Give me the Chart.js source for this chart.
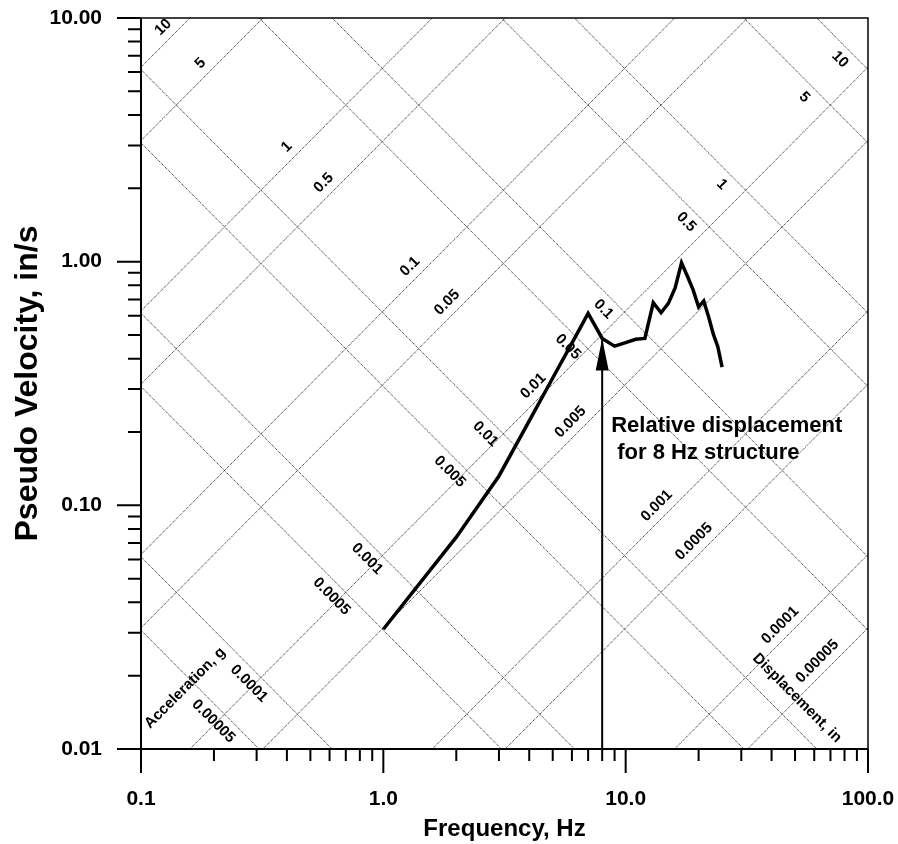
<!DOCTYPE html>
<html>
<head>
<meta charset="utf-8">
<script src="https://cdn.jsdelivr.net/npm/chart.js@4.4.1/dist/chart.umd.min.js"></script>
<style>
  html, body { margin: 0; padding: 0; background: #fff; }
  canvas { display: block; }
</style>
</head>
<body>
<canvas id="chartCanvas" width="898" height="844"></canvas>
<script>
// akser (log-log)
const xTickValues = [0.1, 1, 10, 100];
const xTickLabels = ['0.1', '1.0', '10.0', '100.0'];
const yTickValues = [0.01, 0.1, 1, 10];
const yTickLabels = ['0.01', '0.10', '1.00', '10.00'];

// responsspektrum: frekvens (Hz) og pseudo-hastighed (in/s)
const freqHz = [1, 2, 3, 4, 5, 6, 7, 8, 9, 10, 11, 12, 13, 14, 15, 16, 17, 18, 19, 20, 21, 22, 23, 24, 25];
const pseudoVel = [0.031, 0.074, 0.132, 0.222, 0.333, 0.463, 0.613, 0.484, 0.450, 0.465, 0.480, 0.484, 0.678,
                   0.617, 0.674, 0.781, 0.989, 0.869, 0.764, 0.652, 0.690, 0.593, 0.504, 0.448, 0.369];

// skrå gitterlinjer: acceleration (g) og forskydning (in)
const accelG = [10, 5, 1, 0.5, 0.1, 0.05, 0.01, 0.005, 0.001, 0.0005, 0.0001, 0.00005];
const displIn = [10, 5, 1, 0.5, 0.1, 0.05, 0.01, 0.005, 0.001, 0.0005, 0.0001, 0.00005];
const gridLabels = ['10', '5', '1', '0.5', '0.1', '0.05', '0.01', '0.005', '0.001', '0.0005', '0.0001', '0.00005'];

// pil til strukturens frekvens
const structureHz = 8;
const noteLines = ['Relative displacement', ' for 8 Hz structure'];

const G_IN = 386.1; // in/s^2
const TWO_PI = 2 * Math.PI;
const fMin = xTickValues[0], fMax = xTickValues[xTickValues.length - 1];
const vMin = yTickValues[0], vMax = yTickValues[yTickValues.length - 1];

function accVel(a, f) { return a * G_IN / (TWO_PI * f); }
function dispVel(d, f) { return TWO_PI * f * d; }

const FONT = '"Liberation Sans", Arial, Helvetica, sans-serif';
Chart.defaults.font.family = FONT;
Chart.defaults.color = '#000';

// datasets: kurven først (tegnes øverst), så pilen, så gitteret
const datasets = [];
datasets.push({
  data: freqHz.map((f, i) => ({ x: f, y: pseudoVel[i] })),
  borderColor: '#000', borderWidth: 3.5, pointRadius: 0, fill: false,
  borderJoinStyle: 'miter', borderCapStyle: 'butt'
});
const tipVel = pseudoVel[freqHz.indexOf(structureHz)];
datasets.push({
  data: [{ x: structureHz, y: vMin }, { x: structureHz, y: tipVel }],
  borderColor: '#000', borderWidth: 2, pointRadius: 0, fill: false
});
const dotted = { borderColor: '#111', borderWidth: 1, borderDash: [1, 1], pointRadius: 0, fill: false };
accelG.forEach(a => datasets.push({ ...dotted, data: [{ x: fMin, y: accVel(a, fMin) }, { x: fMax, y: accVel(a, fMax) }] }));
displIn.forEach(d => datasets.push({ ...dotted, data: [{ x: fMin, y: dispVel(d, fMin) }, { x: fMax, y: dispVel(d, fMax) }] }));

// tal på de skrå linjer + akse-ramme, tick-streger, pil og tekst
const tripartite = {
  id: 'tripartite',
  beforeDatasetsDraw(chart) {
    const ctx = chart.ctx, xs = chart.scales.x, ys = chart.scales.y;
    const toPx = (u, w) => [xs.getPixelForValue(fMin * Math.pow(10, u)), ys.getPixelForValue(vMin * Math.pow(10, w))];
    const dx = xs.getPixelForValue(10) - xs.getPixelForValue(1);
    const dy = ys.getPixelForValue(0.1) - ys.getPixelForValue(1);
    const accAng = Math.atan2(dy, dx), dispAng = -accAng;

    ctx.save();
    ctx.font = 'bold 15px ' + FONT;
    ctx.fillStyle = '#000';
    ctx.textAlign = 'center';
    ctx.textBaseline = 'middle';

    // acceleration: u + w = konstant langs linjen
    accelG.forEach((a, i) => {
      const s = Math.log10(a * G_IN / (TWO_PI * fMin * vMin));
      const d = -0.055 - 0.0245 * (5.79 - s);
      const sl = s - 0.075;
      const [px, py] = toPx((sl - d) / 2, (sl + d) / 2);
      ctx.save(); ctx.translate(px, py); ctx.rotate(accAng);
      ctx.fillText(gridLabels[i], 0, 0); ctx.restore();
    });
    // forskydning: w - u = konstant langs linjen
    displIn.forEach((dv, i) => {
      const dl = Math.log10(TWO_PI * dv * fMin / vMin);
      const d = dl + 0.072;
      const sl = 3.105 - 0.0183 * dl;
      const [px, py] = toPx((sl - d) / 2, (sl + d) / 2);
      ctx.save(); ctx.translate(px, py); ctx.rotate(dispAng);
      ctx.fillText(gridLabels[i], 0, 0); ctx.restore();
    });

    const area = chart.chartArea;
    ctx.save(); ctx.translate(area.left + 44, area.bottom - 61); ctx.rotate(dispAng);
    ctx.fillText('Acceleration, g', 0, 0); ctx.restore();
    ctx.save(); ctx.translate(area.right - 71, area.bottom - 51); ctx.rotate(accAng);
    ctx.fillText('Displacement, in', 0, 0); ctx.restore();
    ctx.restore();
  },
  afterDatasetsDraw(chart) {
    const ctx = chart.ctx, xs = chart.scales.x, ys = chart.scales.y, area = chart.chartArea;
    ctx.save();
    ctx.strokeStyle = '#000';
    ctx.lineWidth = 1.5;
    ctx.strokeRect(area.left, area.top, area.right - area.left, area.bottom - area.top);
    ctx.lineWidth = 2;
    ctx.beginPath();
    ctx.moveTo(area.left, area.top);
    ctx.lineTo(area.left, area.bottom);
    ctx.lineTo(area.right, area.bottom);
    ctx.stroke();

    // tick-streger: lange ved dekader, korte ellers
    ctx.beginPath();
    for (let e = Math.log10(fMin); e < Math.log10(fMax) + 0.5; e++) {
      for (let k = 1; k <= 9; k++) {
        const val = k * Math.pow(10, e);
        if (val > fMax * 1.0001) break;
        const px = xs.getPixelForValue(val);
        ctx.moveTo(px, area.bottom);
        ctx.lineTo(px, area.bottom + (k === 1 ? 24 : 12));
      }
    }
    for (let e = Math.log10(vMin); e < Math.log10(vMax) + 0.5; e++) {
      for (let k = 1; k <= 9; k++) {
        const val = k * Math.pow(10, e);
        if (val > vMax * 1.0001) break;
        const py = ys.getPixelForValue(val);
        ctx.moveTo(area.left, py);
        ctx.lineTo(area.left - (k === 1 ? 24 : 13), py);
      }
    }
    ctx.stroke();

    // pilespids
    const ax = xs.getPixelForValue(structureHz);
    const ay = ys.getPixelForValue(tipVel);
    ctx.fillStyle = '#000';
    ctx.beginPath();
    ctx.moveTo(ax, ay);
    ctx.lineTo(ax - 6.5, ay + 32);
    ctx.lineTo(ax + 6.5, ay + 32);
    ctx.closePath();
    ctx.fill();

    ctx.font = 'bold 22px ' + FONT;
    ctx.textAlign = 'left';
    ctx.textBaseline = 'alphabetic';
    ctx.fillText(noteLines[0], ax + 9, ay + 94);
    ctx.fillText(noteLines[1], ax + 9, ay + 121);
    ctx.restore();
  }
};

// nulstil skalaernes egen label-padding, så plotområdet ligger fast
function noPad(s) { s.paddingLeft = 0; s.paddingRight = 0; s.paddingTop = 0; s.paddingBottom = 0; }

const ctx = document.getElementById('chartCanvas');
const myChart = new Chart(ctx, {
  type: 'line',
  data: { datasets: datasets },
  options: {
    responsive: false,
    animation: false,
    events: [],
    layout: { padding: { left: 0, right: 30, top: 18, bottom: 0 } },
    plugins: { legend: { display: false }, tooltip: { enabled: false } },
    scales: {
      x: {
        type: 'logarithmic', min: fMin, max: fMax,
        afterFit: s => { s.height = 95; noPad(s); },
        afterBuildTicks: s => { s.ticks = xTickValues.map(v => ({ value: v, major: true })); },
        grid: { display: false, drawTicks: false },
        border: { display: false },
        ticks: {
          autoSkip: false, maxRotation: 0, padding: 38,
          font: { size: 21, weight: 'bold' },
          callback: (v, i) => xTickLabels[i]
        },
        title: { display: true, text: 'Frequency, Hz', font: { size: 24, weight: 'bold' }, padding: { top: 0, bottom: 0 } }
      },
      y: {
        type: 'logarithmic', min: vMin, max: vMax,
        afterFit: s => { s.width = 141; noPad(s); },
        afterBuildTicks: s => { s.ticks = yTickValues.map(v => ({ value: v, major: true })); },
        grid: { display: false, drawTicks: false },
        border: { display: false },
        ticks: {
          autoSkip: false, padding: 39,
          font: { size: 21, weight: 'bold' },
          callback: (v, i) => yTickLabels[i]
        },
        title: { display: true, text: 'Pseudo Velocity, in/s', font: { size: 32, weight: 'bold' }, padding: { top: 9, bottom: 0 } }
      }
    }
  },
  plugins: [tripartite]
});
</script>
</body>
</html>
